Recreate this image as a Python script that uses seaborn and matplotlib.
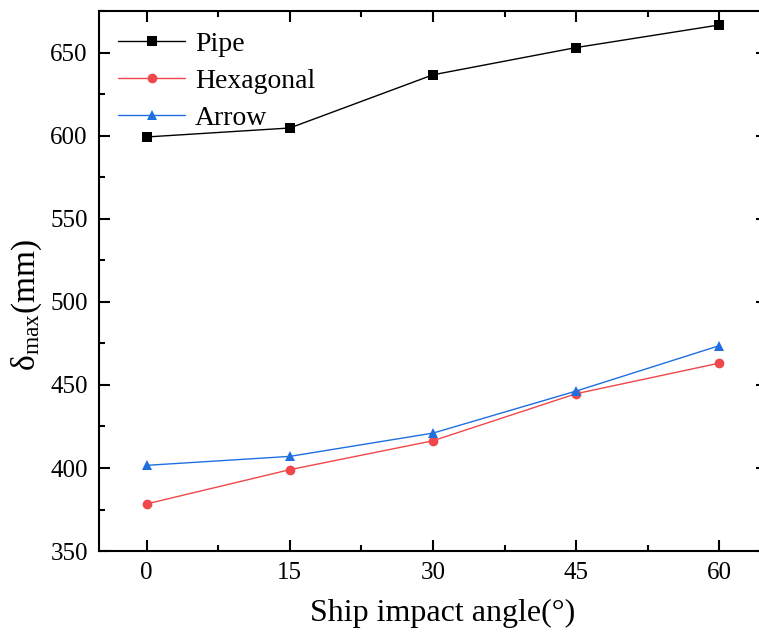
import matplotlib
matplotlib.use("Agg")
import matplotlib.pyplot as plt
from matplotlib.ticker import MultipleLocator
import pandas as pd
import seaborn as sns

angles = [0, 15, 30, 45, 60]
pipe = [599.2, 604.6, 636.6, 653.0, 666.6]
hexagonal = [378.4, 399.0, 416.4, 444.7, 463.1]
arrow = [401.6, 407.0, 421.0, 446.3, 473.6]
series_names = ["Pipe", "Hexagonal", "Arrow"]

sns.set_theme(style="ticks")
plt.rcParams["font.family"] = ["Liberation Serif", "DejaVu Serif"]
plt.rcParams["mathtext.fontset"] = "custom"
plt.rcParams["mathtext.rm"] = "Liberation Serif"
plt.rcParams["mathtext.it"] = "Liberation Serif:italic"
for key in ("text.color", "axes.labelcolor", "xtick.color", "ytick.color",
            "xtick.labelcolor", "ytick.labelcolor"):
    plt.rcParams[key] = "black"

df = pd.DataFrame({
    "angle": angles * 3,
    "delta": pipe + hexagonal + arrow,
    "type": sum([[n] * len(angles) for n in series_names], []),
})

palette = {"Pipe": "#000000", "Hexagonal": "#F0474A", "Arrow": "#1E6FE0"}
markers = {"Pipe": "s", "Hexagonal": "o", "Arrow": "^"}

fig = plt.figure(figsize=(7.59, 6.32), dpi=100)
ax = fig.add_axes([0.1304, 0.128, 0.8801, 0.8546])

sns.lineplot(data=df, x="angle", y="delta", hue="type", style="type",
             palette=palette, markers=markers, dashes=False, markersize=7,
             linewidth=1.0, markeredgewidth=0, ax=ax, legend=True)

ax.set_xlim(-5, 65)
ax.set_ylim(350, 675)
ax.set_xticks(angles)
ax.xaxis.set_minor_locator(MultipleLocator(7.5))
ax.yaxis.set_major_locator(MultipleLocator(50))
ax.yaxis.set_minor_locator(MultipleLocator(25))

for s in ax.spines.values():
    s.set_visible(True)
    s.set_linewidth(1.5)
    s.set_color("black")
ax.tick_params(which="both", direction="in", top=True, right=True,
               width=1.5, color="black", labelcolor="black", labelsize=18,
               pad=8)
ax.tick_params(which="major", length=8)
ax.tick_params(which="minor", length=4)

ax.set_xlabel("Ship impact angle(°)", fontsize=23)
ax.xaxis.set_label_coords(0.515, -0.088)
ax.set_ylabel(r"$\mathrm{\delta}_{\mathrm{max}}$(mm)", fontsize=24)
ax.yaxis.set_label_coords(-0.082, 0.455)

handles, labels = ax.get_legend_handles_labels()
ax.legend(handles, labels, loc="upper left", frameon=False, fontsize=20,
          handlelength=2.4, borderaxespad=0.3, labelspacing=0.42,
          handletextpad=0.35, bbox_to_anchor=(0.0, 0.998))

fig.savefig("out.png", dpi=100)
